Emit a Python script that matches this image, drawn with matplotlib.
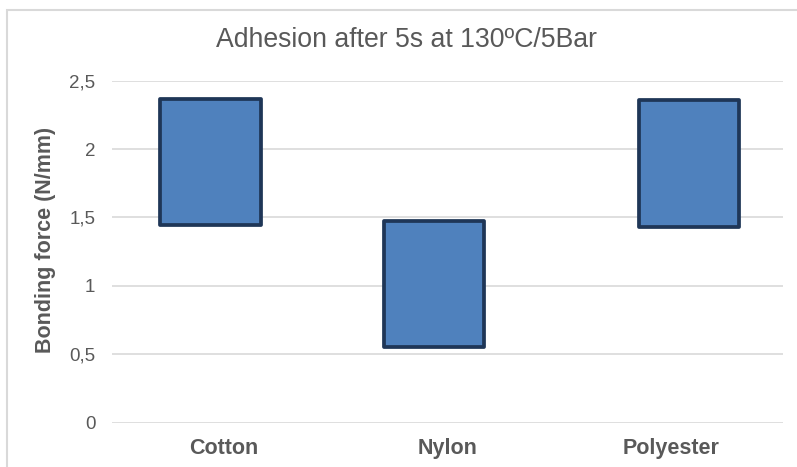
import matplotlib
matplotlib.use("Agg")
import matplotlib.pyplot as plt
from matplotlib.patches import Rectangle

# data
fabrics = ["Cotton", "Nylon", "Polyester"]
force_low = [1.445, 0.553, 1.428]
force_high = [2.367, 1.478, 2.358]
y_ticks = [0, 0.5, 1, 1.5, 2, 2.5]
y_tick_labels = ["0", "0,5", "1", "1,5", "2", "2,5"]

# small horizontal shift of each bar relative to its category (as in the original)
bar_shift = [-0.06, -0.06, 0.08]

plt.rcParams["font.family"] = ["Liberation Sans", "DejaVu Sans"]
TXT = "#595959"

fig = plt.figure(figsize=(7.97, 4.67), dpi=100)
ax = fig.add_axes([112 / 797, 1 - 422.7 / 467, 671 / 797, 342 / 467])

# chart frame (cropped at right and bottom in the original)
fig.patches.append(Rectangle((7.5 / 797, -0.1), 1.2, 1 - 10 / 467 + 0.1,
                             transform=fig.transFigure, fill=False,
                             edgecolor="#d9d9d9", linewidth=1.5))

x = [i + s for i, s in enumerate(bar_shift)]
heights = [h - l for h, l in zip(force_high, force_low)]
ax.bar(x, heights, bottom=force_low, width=0.45, color="#4f81bd",
       edgecolor="#1f3657", linewidth=2.7, joinstyle="round", zorder=3)

ax.set_xlim(-0.5, 2.5)
ax.set_ylim(0, 2.5)
ax.set_xticks(range(len(fabrics)))
ax.set_xticklabels(fabrics, fontsize=15.5, fontweight="bold", color=TXT)
ax.set_yticks(y_ticks)
ax.set_yticklabels(y_tick_labels, fontsize=13.5, color=TXT)
ax.tick_params(axis="both", length=0)
ax.tick_params(axis="x", pad=11)
ax.tick_params(axis="y", pad=12)
ax.grid(axis="y", color="#d9d9d9", linewidth=1.2, zorder=0)
for sp in ax.spines.values():
    sp.set_visible(False)

ax.set_ylabel("Bonding force (N/mm)", fontsize=15.5, fontweight="bold",
              color=TXT, va="center")
ax.yaxis.set_label_coords(-0.0998, 0.534)
fig.text(406 / 797, 1 - 40 / 467, "Adhesion after 5s at 130ºC/5Bar",
         ha="center", va="center", fontsize=19.2, color=TXT)

fig.savefig("out.png", dpi=100)
